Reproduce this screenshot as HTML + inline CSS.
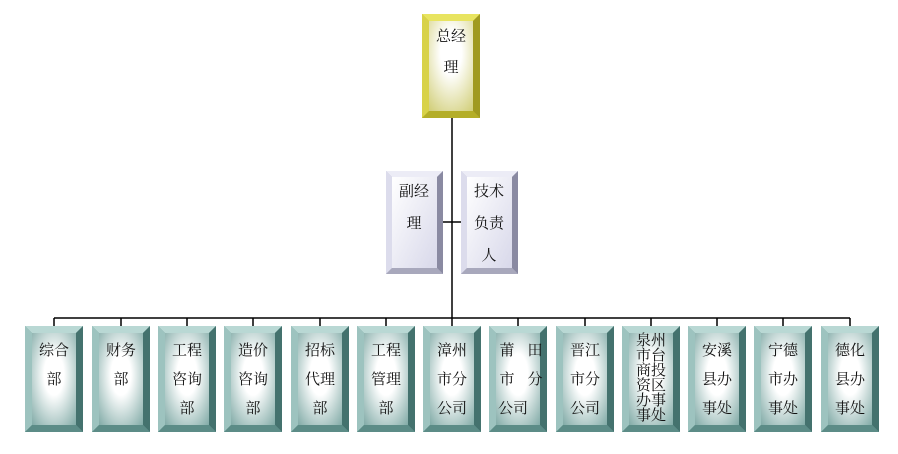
<!DOCTYPE html>
<html><head><meta charset="utf-8"><style>
html,body{margin:0;padding:0;background:#fff;width:898px;height:454px;overflow:hidden}
text{font-family:"Liberation Serif","Noto Serif CJK SC",serif;fill:#111;font-size:15px;text-anchor:middle}
</style></head><body>
<svg width="898" height="454" viewBox="0 0 898 454" xmlns="http://www.w3.org/2000/svg">
<defs>
<radialGradient id="tg" cx="0.5" cy="0.45" r="0.75"><stop offset="0.3" stop-color="#fff"/><stop offset="1" stop-color="#7fa9a5"/></radialGradient>
<radialGradient id="gg" cx="0.5" cy="0.35" r="0.8"><stop offset="0.3" stop-color="#fff"/><stop offset="1" stop-color="#d2cf7a"/></radialGradient>
<linearGradient id="lg" x1="0" y1="0" x2="1" y2="1"><stop offset="0" stop-color="#fff"/><stop offset="1" stop-color="#d8d8ea"/></linearGradient>
<g id="tb">
<rect width="58" height="106" fill="#6e9e99"/>
<polygon points="0,0 58,0 51,7 7,7" fill="#b9d8d4"/>
<polygon points="0,0 7,7 7,99 0,106" fill="#9dc3bf"/>
<polygon points="58,0 58,106 51,99 51,7" fill="#44726e"/>
<polygon points="0,106 58,106 51,99 7,99" fill="#5c8c87"/>
<rect x="7" y="7" width="44" height="92" fill="url(#tg)"/>
</g>
</defs>
<g stroke="#000" stroke-width="1.5" fill="none">
<line x1="452" y1="118" x2="452" y2="318"/>
<line x1="443" y1="222" x2="461" y2="222"/>
<line x1="54" y1="318" x2="850" y2="318"/>
<line x1="54" y1="318" x2="54" y2="327"/><line x1="121" y1="318" x2="121" y2="327"/><line x1="187" y1="318" x2="187" y2="327"/><line x1="253" y1="318" x2="253" y2="327"/><line x1="320" y1="318" x2="320" y2="327"/><line x1="386" y1="318" x2="386" y2="327"/><line x1="452" y1="318" x2="452" y2="327"/><line x1="518" y1="318" x2="518" y2="327"/><line x1="585" y1="318" x2="585" y2="327"/><line x1="651" y1="318" x2="651" y2="327"/><line x1="717" y1="318" x2="717" y2="327"/><line x1="783" y1="318" x2="783" y2="327"/><line x1="850" y1="318" x2="850" y2="327"/>
</g>
<!-- top -->
<g transform="translate(422,14)">
<rect width="58" height="104" fill="#c8c030"/>
<polygon points="0,0 58,0 51,7 7,7" fill="#e8e460"/>
<polygon points="0,0 7,7 7,97 0,104" fill="#d8d248"/>
<polygon points="58,0 58,104 51,97 51,7" fill="#a09a20"/>
<polygon points="0,104 58,104 51,97 7,97" fill="#b4ae28"/>
<rect x="7" y="7" width="44" height="90" fill="url(#gg)"/>
</g>
<text x="451" y="41">总经</text><text x="451" y="72">理</text>
<!-- middle -->
<g transform="translate(386,171)">
<rect width="57" height="103" fill="#b8b8cc"/>
<polygon points="0,0 57,0 51,6 6,6" fill="#ececf6"/>
<polygon points="0,0 6,6 6,97 0,103" fill="#dcdcec"/>
<polygon points="57,0 57,103 51,97 51,6" fill="#8a8aa2"/>
<polygon points="0,103 57,103 51,97 6,97" fill="#a8a8bc"/>
<rect x="6" y="6" width="45" height="91" fill="url(#lg)"/>
</g>
<g transform="translate(461,171)">
<rect width="57" height="103" fill="#b8b8cc"/>
<polygon points="0,0 57,0 51,6 6,6" fill="#ececf6"/>
<polygon points="0,0 6,6 6,97 0,103" fill="#dcdcec"/>
<polygon points="57,0 57,103 51,97 51,6" fill="#8a8aa2"/>
<polygon points="0,103 57,103 51,97 6,97" fill="#a8a8bc"/>
<rect x="6" y="6" width="45" height="91" fill="url(#lg)"/>
</g>
<text x="414" y="196">副经</text><text x="414" y="228">理</text>
<text x="489" y="196">技术</text><text x="489" y="228">负责</text><text x="489" y="260">人</text>
<!-- bottom -->
<use href="#tb" x="25" y="326"/><use href="#tb" x="92" y="326"/><use href="#tb" x="158" y="326"/><use href="#tb" x="224" y="326"/><use href="#tb" x="291" y="326"/><use href="#tb" x="357" y="326"/><use href="#tb" x="423" y="326"/><use href="#tb" x="489" y="326"/><use href="#tb" x="556" y="326"/><use href="#tb" x="622" y="326"/><use href="#tb" x="688" y="326"/><use href="#tb" x="754" y="326"/><use href="#tb" x="821" y="326"/>
<text x="54" y="355">综合</text><text x="54" y="384">部</text>
<text x="121" y="355">财务</text><text x="121" y="384">部</text>
<text x="187" y="355">工程</text><text x="187" y="384">咨询</text><text x="187" y="413">部</text>
<text x="253" y="355">造价</text><text x="253" y="384">咨询</text><text x="253" y="413">部</text>
<text x="320" y="355">招标</text><text x="320" y="384">代理</text><text x="320" y="413">部</text>
<text x="386" y="355">工程</text><text x="386" y="384">管理</text><text x="386" y="413">部</text>
<text x="452" y="355">漳州</text><text x="452" y="384">市分</text><text x="452" y="413">公司</text>
<text x="507" y="355">莆</text><text x="535" y="355">田</text><text x="507" y="384">市</text><text x="535" y="384">分</text><text x="513" y="413">公司</text>
<text x="585" y="355">晋江</text><text x="585" y="384">市分</text><text x="585" y="413">公司</text>
<g style="font-size:13px">
<text x="651" y="345">泉州</text><text x="651" y="360">市台</text><text x="651" y="375">商投</text><text x="651" y="390">资区</text><text x="651" y="405">办事</text><text x="651" y="420">事处</text>
</g>
<text x="717" y="355">安溪</text><text x="717" y="384">县办</text><text x="717" y="413">事处</text>
<text x="783" y="355">宁德</text><text x="783" y="384">市办</text><text x="783" y="413">事处</text>
<text x="850" y="355">德化</text><text x="850" y="384">县办</text><text x="850" y="413">事处</text>
</svg>
</body></html>
